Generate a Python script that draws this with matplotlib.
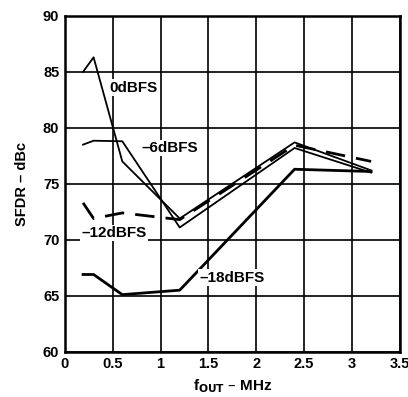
import matplotlib
matplotlib.use("Agg")
import matplotlib.pyplot as plt

plt.rcParams["font.family"] = ["Liberation Sans", "DejaVu Sans"]
plt.rcParams["font.weight"] = "bold"

# f_OUT (MHz) sample points
freq = [0.19, 0.30, 0.60, 1.20, 2.40, 3.20]

sfdr_0dbfs = [85.0, 86.3, 77.0, 71.9, 78.7, 76.2]
sfdr_6dbfs = [78.5, 78.85, 78.8, 71.1, 78.2, 76.0]
sfdr_12dbfs = [73.3, 71.9, 72.4, 71.8, 78.45, 77.0]
sfdr_18dbfs = [66.9, 66.9, 65.1, 65.5, 76.3, 76.1]

xticks = [0, 0.5, 1, 1.5, 2, 2.5, 3, 3.5]
xtick_labels = ["0", "0.5", "1", "1.5", "2", "2.5", "3", "3.5"]
yticks = [60, 65, 70, 75, 80, 85, 90]

fig = plt.figure(figsize=(4.08, 3.97), dpi=100)
ax = fig.add_axes([0.159, 0.114, 0.821, 0.846])

ax.plot(freq, sfdr_0dbfs, color="black", lw=1.3, zorder=3)
ax.plot(freq, sfdr_6dbfs, color="black", lw=1.3, zorder=3)
ax.plot(freq, sfdr_12dbfs, color="black", lw=2.0, dashes=(7, 4), zorder=3)
ax.plot(freq, sfdr_18dbfs, color="black", lw=2.0, zorder=3)

box = dict(facecolor="white", edgecolor="none", pad=1.0)
lab = dict(fontsize=11, fontweight="bold", va="center", ha="left", zorder=4, bbox=box)
ax.text(0.47, 83.6, "0dBFS", **lab)
ax.text(0.80, 78.2, "\u20136dBFS", **lab)
ax.text(0.17, 70.6, "\u201312dBFS", **lab)
ax.text(1.41, 66.6, "\u201318dBFS", **lab)

ax.set_xlim(0, 3.5)
ax.set_ylim(60, 90)
ax.set_xticks(xticks)
ax.set_xticklabels(xtick_labels)
ax.set_yticks(yticks)
ax.grid(True, color="black", lw=1.2)
ax.set_axisbelow(True)
ax.tick_params(length=0, labelsize=10.5, pad=4)
for lbl in ax.get_xticklabels() + ax.get_yticklabels():
    lbl.set_fontweight("bold")
for sp in ax.spines.values():
    sp.set_linewidth(1.8)

ax.set_xlabel("f$_{\\mathregular{\\bf OUT}}$ \u2013 MHz",
              fontsize=11, fontweight="bold", labelpad=4)
ax.set_ylabel("SFDR \u2013 dBc", fontsize=10.5, fontweight="bold", labelpad=10)

fig.savefig("out.png", dpi=100)
